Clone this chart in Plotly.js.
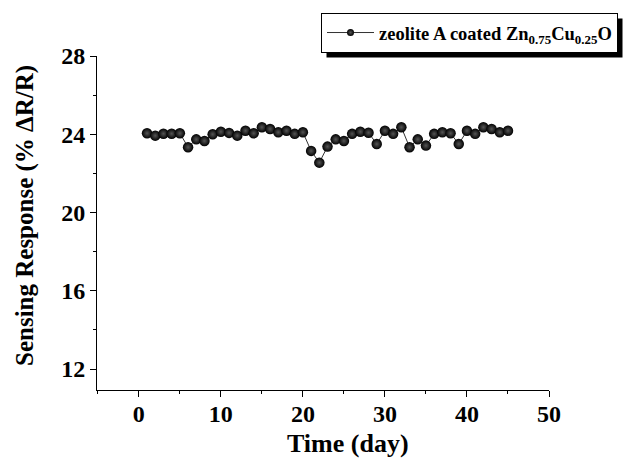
<!DOCTYPE html>
<html>
<head>
<meta charset="utf-8">
<script src="https://cdn.plot.ly/plotly-3.0.1.min.js"></script>
<style>html,body{margin:0;padding:0;background:#fff;}#chart{width:627px;height:459px;}</style>
</head>
<body>
<div id="chart"></div>
<script>
const days = [1,2,3,4,5,6,7,8,9,10,11,12,13,14,15,16,17,18,19,20,21,22,23,24,25,26,27,28,29,30,31,32,33,34,35,36,37,38,39,40,41,42,43,44,45];
const response = [24.05,23.93,24.03,24.03,24.05,23.34,23.74,23.66,24.0,24.13,24.07,23.93,24.18,24.05,24.36,24.27,24.1,24.18,24.02,24.1,23.15,22.55,23.37,23.74,23.66,24.02,24.13,24.08,23.5,24.18,24.02,24.36,23.34,23.74,23.42,24.02,24.1,24.05,23.5,24.18,24.02,24.36,24.27,24.1,24.18];
const seriesName = 'zeolite A coated Zn<sub>0.75</sub>Cu<sub>0.25</sub>O';
const xTitle = 'Time (day)';
const yTitle = 'Sensing Response (% \u0394R/R)';

const W = 627, H = 459, mL = 97, mR = 78, mT = 56, mB = 69;
const pw = W - mL - mR, ph = H - mT - mB;
const px = x => (x - mL) / pw;
const py = y => (H - mB - y) / ph;

const serif = 'Liberation Serif, Times New Roman, serif';

const trace = {
  x: days, y: response, name: seriesName, showlegend: false,
  type: 'scatter', mode: 'lines+markers',
  line: {color: '#333', width: 1},
  marker: {size: 10.5, color: '#000', gradient: {type: 'radial', color: '#555'}, line: {width: 0}}
};
// legend-only entry (smaller symbol, as in the reference legend)
const legendEntry = {
  x: [null], y: [null], name: seriesName, showlegend: true,
  type: 'scatter', mode: 'lines+markers',
  line: {color: '#333', width: 1},
  marker: {size: 7, color: '#000', gradient: {type: 'radial', color: '#555'}, line: {width: 0}}
};

const layout = {
  width: W, height: H, autosize: false,
  margin: {l: mL, r: mR, t: mT, b: mB, pad: 0, autoexpand: false},
  paper_bgcolor: '#fff', plot_bgcolor: '#fff',
  font: {family: serif, color: '#000'},
  showlegend: true,
  legend: {
    x: px(321), y: py(13), xanchor: 'left', yanchor: 'top',
    bgcolor: '#fff', bordercolor: '#000', borderwidth: 1,
    font: {family: serif, size: 18.5, weight: 'bold', color: '#000'},
    itemwidth: 47
  },
  xaxis: {
    range: [-5.1, 50], tick0: 0, dtick: 10,
    showline: true, linecolor: '#000', linewidth: 1, mirror: false,
    showgrid: false, zeroline: false,
    ticks: 'outside', ticklen: 6, tickwidth: 1, tickcolor: '#000', ticklabelstandoff: -4,
    tickfont: {family: serif, size: 24, weight: 'bold', color: '#000'},
    minor: {ticks: 'outside', ticklen: 3, tickwidth: 1, tickcolor: '#000', dtick: 5, tick0: 0, showgrid: false}
  },
  yaxis: {
    range: [10.93, 28], tick0: 0, dtick: 4,
    showline: true, linecolor: '#000', linewidth: 1, mirror: false,
    showgrid: false, zeroline: false,
    ticks: 'outside', ticklen: 6, tickwidth: 1, tickcolor: '#000',
    tickfont: {family: serif, size: 24, weight: 'bold', color: '#000'},
    minor: {ticks: 'outside', ticklen: 3, tickwidth: 1, tickcolor: '#000', dtick: 2, tick0: 0, showgrid: false}
  },
  annotations: [
    {text: xTitle, xref: 'paper', yref: 'paper', x: px(348), y: py(443), xanchor: 'center', yanchor: 'middle', showarrow: false,
     font: {family: serif, size: 26, weight: 'bold', color: '#000'}},
    {text: yTitle, xref: 'paper', yref: 'paper', x: px(25), y: py(216), xanchor: 'center', yanchor: 'middle', showarrow: false, textangle: -90,
     font: {family: serif, size: 25, weight: 'bold', color: '#000'}}
  ],
  shapes: []
};

const gd = document.getElementById('chart');
Plotly.newPlot(gd, [trace, legendEntry], layout, {displayModeBar: false, staticPlot: true}).then(() => {
  const bg = gd.querySelector('.legend .bg');
  if (!bg) return;
  const r = bg.getBoundingClientRect();
  const c = gd.getBoundingClientRect();
  const L = r.left - c.left, T = r.top - c.top, R = r.right - c.left, B = r.bottom - c.top;
  const off = 5;
  Plotly.relayout(gd, {shapes: [
    {type: 'rect', xref: 'paper', yref: 'paper', layer: 'below',
     x0: px(L + off), x1: px(R + off), y0: py(B + off), y1: py(T + off),
     fillcolor: '#000', line: {width: 0}}
  ]});
});
</script>
</body>
</html>
